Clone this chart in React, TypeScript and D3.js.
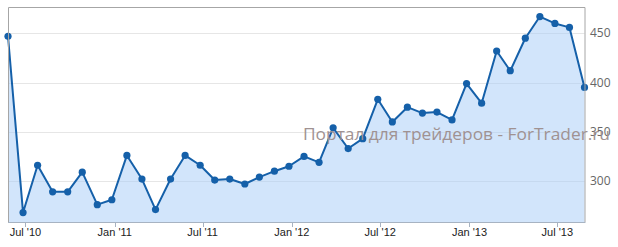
import React from "react";
import * as d3 from "d3";

const startYear = 2010;
const startMonth = 4; // May
const values = [447, 268, 316, 289, 289, 309, 276, 281, 326, 302, 271, 302, 326, 316, 301, 302, 297, 304, 310, 315, 325, 319, 354, 333, 343, 383, 360, 375, 369, 370, 362, 399, 379, 432, 412, 445, 467, 460, 456, 395];
const dates = values.map((_, i) => new Date(startYear, startMonth + i, 26));
const xTicks = [new Date(2010, 6, 1), new Date(2011, 0, 1), new Date(2011, 6, 1), new Date(2012, 0, 1), new Date(2012, 6, 1), new Date(2013, 0, 1), new Date(2013, 6, 1)];
const xTickLabels = ["Jul '10", "Jan '11", "Jul '11", "Jan '12", "Jul '12", "Jan '13", "Jul '13"];
const yTicks = [300, 350, 400, 450];
const watermark = "Портал для трейдеров - ForTrader.ru";

export default function App() {
  const W = 618, H = 247;
  const L = 8, R = 584.5, T = 7, B = 222;
  const x = d3.scaleTime().domain([dates[0], dates[dates.length - 1]]).range([L, R]);
  const y = d3.scaleLinear().domain([258.4, 476.7]).range([B, T]);
  const pts: [number, number][] = values.map((v, i) => [x(dates[i]), y(v)]);
  const line = d3.line<[number, number]>().x(d => d[0]).y(d => d[1])(pts) || "";
  const area = d3.area<[number, number]>().x(d => d[0]).y0(B).y1(d => d[1])(pts) || "";
  return (
    <svg width={W} height={H} style={{ position: "absolute", left: 0, top: 0 }}>
      <rect x={0} y={0} width={W} height={H} fill="#fff" />
      {yTicks.map(t => (
        <line key={t} x1={L} x2={R} y1={Math.round(y(t)) + 0.5} y2={Math.round(y(t)) + 0.5} stroke="#e6e6e6" strokeWidth={1} />
      ))}
      <path d={area} fill="#a9cdf7" fillOpacity={0.52} />
      <path d={line} fill="none" stroke="#1560a9" strokeWidth={2} strokeLinejoin="round" />
      {pts.map((p, i) => (
        <circle key={i} cx={p[0]} cy={p[1]} r={3.6} fill="#1560a9" />
      ))}
      <path d={`M${L + 0.5},${B} V${T + 0.5} H${R + 0.5} V${B}`} fill="none" stroke="#a6a6a6" strokeWidth={1} />
      <line x1={L} x2={R + 1} y1={B + 0.5} y2={B + 0.5} stroke="#a7b3c2" strokeWidth={1} />
      {xTicks.map((t, i) => (
        <g key={i}>
          <line x1={Math.round(x(t)) + 0.5} x2={Math.round(x(t)) + 0.5} y1={B} y2={B + 5} stroke="#a7b3c2" />
          <text x={x(t)} y={236} textAnchor="middle" fontFamily="Liberation Sans, Arial, sans-serif" fontSize={11} fill="#222">{xTickLabels[i]}</text>
        </g>
      ))}
      {yTicks.map(t => (
        <text key={t} x={590} y={y(t) + 4} fontFamily="Open Sans, sans-serif" fontSize={12} fill="#666">{t}</text>
      ))}
      <text x={303} y={140} fontFamily="Open Sans, sans-serif" fontSize={17} textLength={307} lengthAdjust="spacingAndGlyphs" fill="#a09292">{watermark}</text>
    </svg>
  );
}
